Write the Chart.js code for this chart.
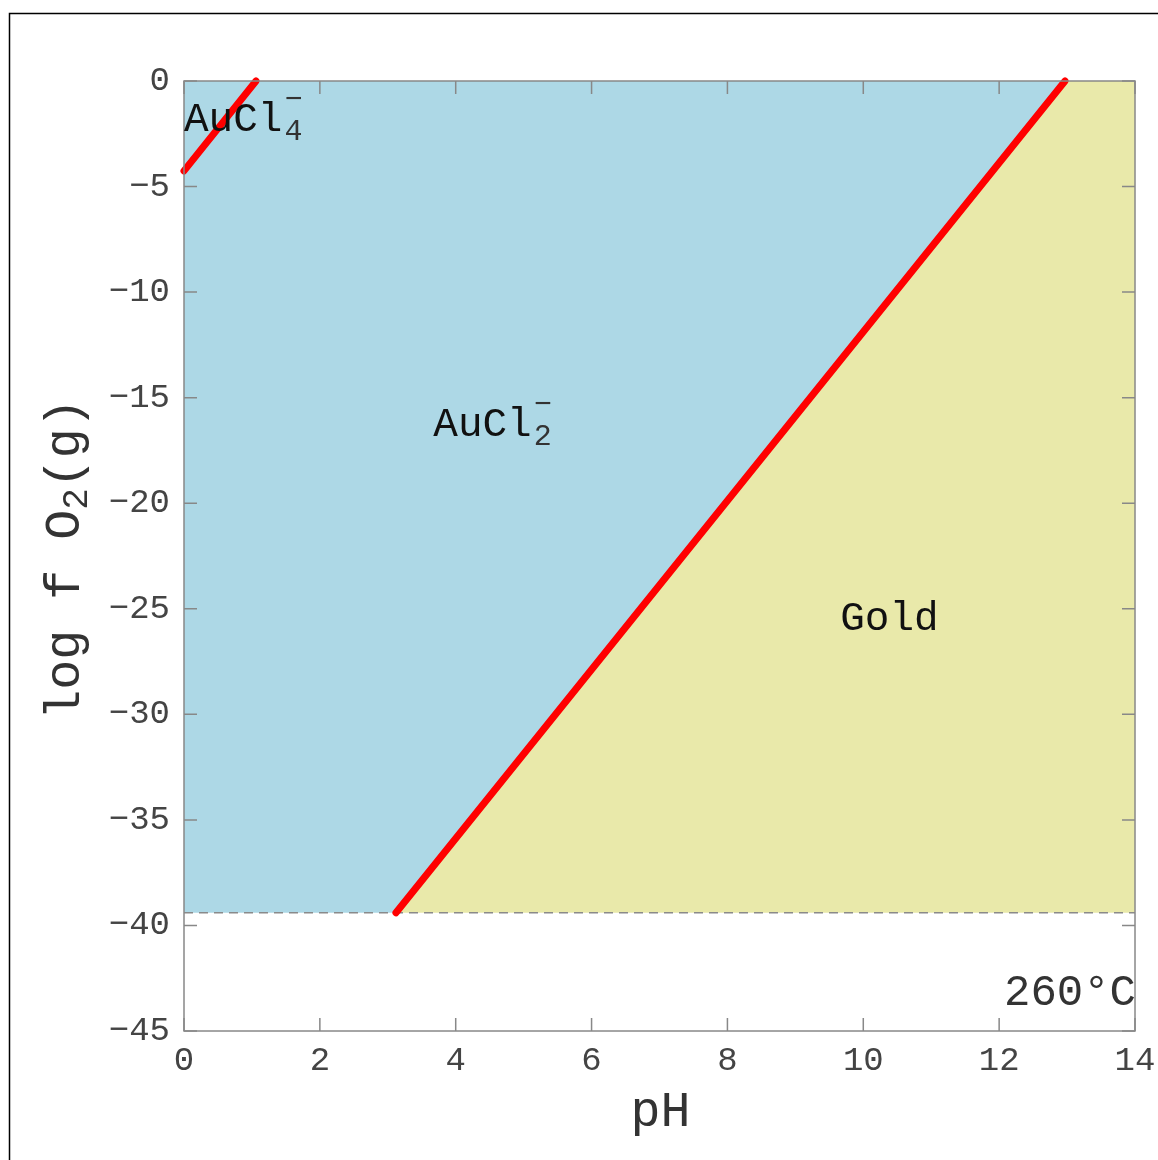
<!DOCTYPE html>
<html>
<head>
<meta charset="utf-8">
<script src="https://cdn.jsdelivr.net/npm/chart.js@4.4.1/dist/chart.umd.min.js"></script>
<style>
  html, body { margin: 0; padding: 0; background: #fff; }
  #wrap { width: 1158px; height: 1160px; }
</style>
</head>
<body>
<div id="wrap"><canvas id="chart" width="1158" height="1160" style="width:1158px;height:1160px"></canvas></div>
<script>
// axis ranges
const phRange = [0, 14];
const logfO2Range = [-45, 0];

// lower stability limit of water (log fO2)
const waterLimit = -39.4;

// field boundaries: [pH, log fO2]
const aucl4Aucl2Line = [[0, -4.26], [1.06, 0]];
const aucl2GoldLine = [[3.12, -39.4], [12.97, 0]];

// field labels: [text, subscript, pH, log fO2]
const fieldLabels = [
  ['AuCl', '4', 0.0, -1.85],
  ['AuCl', '2', 3.67, -16.3],
  ['Gold', '', 9.66, -25.5]
];
const temperatureLabel = ['260°C', 14, -43.2];

const MONO = '"Liberation Mono", "DejaVu Sans Mono", monospace';

const toPts = arr => arr.map(p => ({ x: p[0], y: p[1] }));

const blueField = [
  [phRange[0], logfO2Range[1]],
  aucl2GoldLine[1],
  aucl2GoldLine[0],
  [phRange[0], waterLimit]
];
const goldField = [
  aucl2GoldLine[1],
  [phRange[1], logfO2Range[1]],
  [phRange[1], waterLimit],
  aucl2GoldLine[0]
];

const framePlugin = {
  id: 'frame',
  beforeDraw(chart) {
    const ctx = chart.ctx;
    ctx.save();
    ctx.fillStyle = '#fff';
    ctx.fillRect(0, 0, chart.width, chart.height);
    ctx.strokeStyle = '#000';
    ctx.lineWidth = 1.5;
    ctx.beginPath();
    ctx.moveTo(9.5, chart.height + 2);
    ctx.lineTo(9.5, 13.5);
    ctx.lineTo(chart.width + 2, 13.5);
    ctx.stroke();
    ctx.restore();
  },
  afterDatasetsDraw(chart) {
    const ctx = chart.ctx;
    const { left, right, top, bottom } = chart.chartArea;
    const xs = chart.scales.x, ys = chart.scales.y;
    ctx.save();
    ctx.strokeStyle = '#888';
    ctx.lineWidth = 1.5;
    ctx.strokeRect(left, top, right - left, bottom - top);
    ctx.beginPath();
    xs.ticks.forEach(t => {
      const px = xs.getPixelForValue(t.value);
      ctx.moveTo(px, bottom); ctx.lineTo(px, bottom - 13);
      ctx.moveTo(px, top); ctx.lineTo(px, top + 13);
    });
    ys.ticks.forEach(t => {
      const py = ys.getPixelForValue(t.value);
      ctx.moveTo(left, py); ctx.lineTo(left + 13, py);
      ctx.moveTo(right, py); ctx.lineTo(right - 13, py);
    });
    ctx.stroke();

    // field labels
    ctx.textBaseline = 'middle';
    ctx.textAlign = 'left';
    fieldLabels.forEach(([txt, sub, x, y]) => {
      const px = xs.getPixelForValue(x), py = ys.getPixelForValue(y);
      ctx.fillStyle = '#111';
      ctx.font = '41px ' + MONO;
      ctx.fillText(txt, px, py);
      if (sub) {
        const w = ctx.measureText(txt).width;
        ctx.font = '30px ' + MONO;
        ctx.fillStyle = '#333';
        ctx.fillText(sub, px + w + 2, py + 12);
        ctx.fillText('\u2212', px + w + 2, py - 20);
      }
    });

    // temperature
    ctx.font = '44px ' + MONO;
    ctx.fillStyle = '#333';
    ctx.textAlign = 'right';
    ctx.fillText(temperatureLabel[0], xs.getPixelForValue(temperatureLabel[1]) + 1, ys.getPixelForValue(temperatureLabel[2]));

    // x title
    ctx.font = '50px ' + MONO;
    ctx.textAlign = 'center';
    ctx.fillText('pH', (left + right) / 2 + 1, 1113);

    // y title with subscript
    ctx.translate(66, 559);
    ctx.rotate(-Math.PI / 2);
    const parts = [['log f O', 50, 0], ['2', 36, 11], ['(g)', 50, 0]];
    ctx.textAlign = 'left';
    let total = 0;
    parts.forEach(p => { ctx.font = p[1] + 'px ' + MONO; total += ctx.measureText(p[0]).width; });
    let cx = -total / 2;
    parts.forEach(p => {
      ctx.font = p[1] + 'px ' + MONO;
      ctx.fillText(p[0], cx, p[2]);
      cx += ctx.measureText(p[0]).width;
    });
    ctx.restore();
  }
};

new Chart(document.getElementById('chart'), {
  type: 'scatter',
  data: {
    datasets: [
      {
        data: toPts(aucl4Aucl2Line),
        showLine: true, borderColor: '#ff0000', borderWidth: 7,
        borderCapStyle: 'round', pointRadius: 0, clip: false, order: 1
      },
      {
        data: toPts(aucl2GoldLine),
        showLine: true, borderColor: '#ff0000', borderWidth: 7,
        borderCapStyle: 'round', pointRadius: 0, clip: false, order: 1
      },
      {
        data: toPts([[phRange[0], waterLimit], [phRange[1], waterLimit]]),
        showLine: true, borderColor: '#8a8a8a', borderWidth: 1.5,
        borderDash: [9, 6], pointRadius: 0, order: 2
      },
      {
        data: toPts(blueField),
        showLine: true, fill: 'shape', backgroundColor: '#add8e6',
        borderWidth: 0, borderColor: 'rgba(0,0,0,0)', pointRadius: 0, order: 3
      },
      {
        data: toPts(goldField),
        showLine: true, fill: 'shape', backgroundColor: '#e9e9aa',
        borderWidth: 0, borderColor: 'rgba(0,0,0,0)', pointRadius: 0, order: 3
      }
    ]
  },
  options: {
    responsive: false,
    animation: false,
    layout: { padding: { left: 0, top: 81, right: 23, bottom: 0 } },
    plugins: { legend: { display: false }, tooltip: { enabled: false } },
    scales: {
      x: {
        type: 'linear', min: phRange[0], max: phRange[1],
        grid: { display: false, drawTicks: false },
        border: { display: false },
        ticks: {
          stepSize: 2, padding: 10, maxRotation: 0,
          color: '#444', font: { family: MONO, size: 34 }
        },
        afterFit(scale) {
          scale.height = 129;
          scale.paddingLeft = 0;
          scale.paddingRight = 0;
        }
      },
      y: {
        type: 'linear', min: logfO2Range[0], max: logfO2Range[1],
        grid: { display: false, drawTicks: false },
        border: { display: false },
        ticks: {
          stepSize: 5, padding: 14,
          color: '#444', font: { family: MONO, size: 34 },
          callback: v => String(v).replace('-', '\u2212')
        },
        afterFit(scale) {
          scale.width = 184;
          scale.paddingTop = 0;
          scale.paddingBottom = 0;
        }
      }
    }
  },
  plugins: [framePlugin]
});
</script>
</body>
</html>
